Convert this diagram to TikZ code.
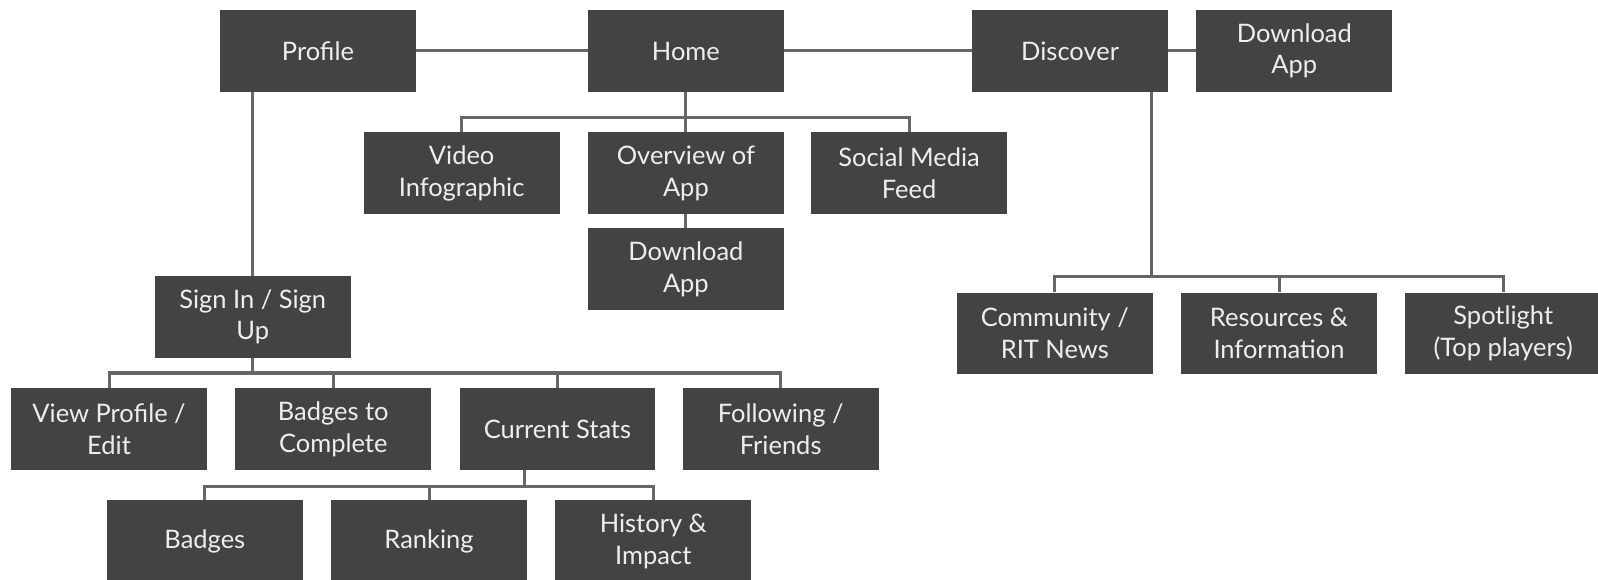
\documentclass[tikz,border=0pt]{standalone}
\usepackage{fontspec}
\setmainfont{Lato}
\definecolor{boxgray}{HTML}{434343}
\definecolor{linegray}{HTML}{666666}
\definecolor{txt}{HTML}{EEEEEE}
\begin{document}
\begin{tikzpicture}[x=0.5pt,y=-0.5pt,
  box/.style={rectangle,fill=boxgray,text=txt,minimum width=96pt,minimum height=40pt,
    inner sep=0pt,align=center,font=\fontsize{12.5}{15.5}\selectfont},
  link/.style={draw=linegray,line width=1.5pt}]
\useasboundingbox (0,0) rectangle (1568,569);
% top row
\node[box] (profile) at (312,50) {Profile};
\node[box] (home) at (673,50) {Home};
\node[box] (discover) at (1050,50) {Discover};
\node[box] (dltop) at (1270,50) {Download\\App};
% home children
\node[box] (video) at (453,170) {Video\\Infographic};
\node[box] (overview) at (673,170) {Overview of\\App};
\node[box] (social) at (892,170) {Social Media\\Feed};
\node[box] (dlmid) at (673,264) {Download\\App};
% profile branch
\node[box] (signin) at (248,311) {Sign In / Sign\\Up};
\node[box] (view) at (107,421) {View Profile /\\Edit};
\node[box] (badgesc) at (327,421) {Badges to\\Complete};
\node[box] (stats) at (547,421) {Current Stats};
\node[box] (follow) at (766,421) {Following /\\Friends};
\node[box] (badges) at (201,531) {Badges};
\node[box] (ranking) at (421,531) {Ranking};
\node[box] (history) at (641,531) {History \&\\Impact};
% discover branch
\node[box] (community) at (1035,327) {Community /\\RIT News};
\node[box] (resources) at (1255,327) {Resources \&\\Information};
\node[box] (spotlight) at (1475,327) {Spotlight\\(Top players)};
% coordinates for buses
\coordinate (hbus) at (673,115);
\coordinate (sbus) at (248,366);
\coordinate (cbus) at (515,477);
\coordinate (dbus) at (1130,271);
% top connectors
\draw[link] (profile.east) -- (home.west);
\draw[link] (home.east) -- (discover.west);
\draw[link] (discover.east) -- (dltop.west);
% home
\draw[link] (home.south) -- (overview.north);
\draw[link] (video.north) -- (video.north |- hbus) -- (social.north |- hbus) -- (social.north);
\draw[link] (overview.south) -- (dlmid.north);
% profile
\draw[link] (profile.south -| signin.north) -- (signin.north);
\draw[link] (signin.south) -- (sbus);
\draw[link] (view.north) -- (view.north |- sbus) -- (follow.north |- sbus) -- (follow.north);
\draw[link] (badgesc.north) -- (badgesc.north |- sbus);
\draw[link] (stats.north) -- (stats.north |- sbus);
% stats
\draw[link] (stats.south -| cbus) -- (cbus);
\draw[link] (badges.north) -- (badges.north |- cbus) -- (history.north |- cbus) -- (history.north);
\draw[link] (ranking.north) -- (ranking.north |- cbus);
% discover
\draw[link] (discover.south -| dbus) -- (dbus);
\draw[link] (community.north) -- (community.north |- dbus) -- (spotlight.north |- dbus) -- (spotlight.north);
\draw[link] (resources.north) -- (resources.north |- dbus);
\end{tikzpicture}
\end{document}
